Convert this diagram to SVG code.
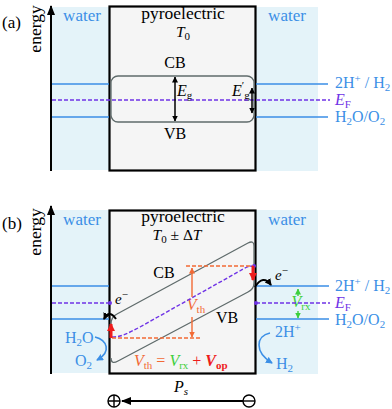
<svg xmlns="http://www.w3.org/2000/svg" width="392" height="409" viewBox="0 0 392 409">
<style>
text{font-family:"Liberation Serif","DejaVu Serif",serif;}
.it{font-style:italic}
.blue{fill:#3b8fe6}
.purp{fill:#6f33e6}
.org{fill:#f26a35}
.grn{fill:#3ccf3c}
.red{fill:#ee1c1c}
.water{fill:#e4f3f9}
.box{fill:#f5f5f5;stroke:#000;stroke-width:2.2}
.bl{stroke:#3b8fe6;stroke-width:1.4;fill:none}
.ef{stroke:#6f33e6;stroke-width:1.4;stroke-dasharray:4 2;fill:none}
.band{stroke:#5f6b6b;stroke-width:1.3;fill:none}
.ax{stroke:#000;stroke-width:2;fill:none}
.blk{stroke:#000;stroke-width:1.5;fill:none}
.odash{stroke:#f26a35;stroke-width:1.3;stroke-dasharray:4 2;fill:none}
</style>
<defs>
<marker id="ah" viewBox="0 0 10 8" refX="9" refY="4" markerWidth="10" markerHeight="8" markerUnits="userSpaceOnUse" orient="auto-start-reverse"><path d="M0,0 L10,4 L0,8 z" fill="#000"/></marker>
<marker id="sh" viewBox="0 0 6 6" refX="5.5" refY="3" markerWidth="6" markerHeight="6" markerUnits="userSpaceOnUse" orient="auto-start-reverse"><path d="M0,0 L6,3 L0,6 z" fill="#000"/></marker>
<marker id="oh" viewBox="0 0 6 6" refX="5.5" refY="3" markerWidth="6" markerHeight="6" markerUnits="userSpaceOnUse" orient="auto-start-reverse"><path d="M0,0 L6,3 L0,6 z" fill="#f26a35"/></marker>
<marker id="gh" viewBox="0 0 6 6" refX="5.5" refY="3" markerWidth="6" markerHeight="6" markerUnits="userSpaceOnUse" orient="auto-start-reverse"><path d="M0,0 L6,3 L0,6 z" fill="#3ccf3c"/></marker>
<marker id="rh" viewBox="0 0 8 8" refX="7" refY="4" markerWidth="8" markerHeight="8" markerUnits="userSpaceOnUse" orient="auto"><path d="M0,0 L8,4 L0,8 z" fill="#ee1c1c"/></marker>
<marker id="bh" viewBox="0 0 7 7" refX="6" refY="3.5" markerWidth="7" markerHeight="7" markerUnits="userSpaceOnUse" orient="auto"><path d="M0,0 L7,3.5 L0,7 z" fill="#3b8fe6"/></marker>
<marker id="kh" viewBox="0 0 7 7" refX="6" refY="3.5" markerWidth="7" markerHeight="7" markerUnits="userSpaceOnUse" orient="auto"><path d="M0,0 L7,3.5 L0,7 z" fill="#000"/></marker>
</defs>

<!-- ===== Panel (a) ===== -->
<g id="panel-a">
<text x="2" y="28" font-size="17">(a)</text>
<text transform="translate(41,29) rotate(-90)" text-anchor="middle" font-size="17.5">energy</text>
<rect class="water" x="52" y="7" width="57" height="163"/>
<rect class="water" x="256" y="7" width="62" height="164"/>
<g id="box-a"><rect class="box" x="109.5" y="6.5" width="146" height="164"/></g>
<text class="blue" x="82" y="21" font-size="17" text-anchor="middle">water</text>
<text class="blue" x="287" y="21" font-size="17" text-anchor="middle">water</text>
<text x="183" y="19" font-size="17.5" text-anchor="middle">pyroelectric</text>
<text x="183" y="37" font-size="15.5" text-anchor="middle"><tspan class="it">T</tspan><tspan font-size="11" dy="3">0</tspan></text>
<text x="175" y="68" font-size="16" text-anchor="middle">CB</text>
<text x="175" y="139" font-size="16" text-anchor="middle">VB</text>
<g id="band-a"><rect class="band" x="111" y="76" width="143" height="46" rx="7"/></g>
<text x="177" y="96" font-size="16"><tspan class="it">E</tspan><tspan font-size="11" dy="3">g</tspan></text>
<text x="232" y="96" font-size="16"><tspan class="it">E</tspan><tspan font-size="11" dy="-7">′</tspan><tspan font-size="11" dy="10">g</tspan></text>
</g>

<!-- ===== Panel (b) ===== -->
<g id="panel-b">
<text x="2" y="229" font-size="17">(b)</text>
<text transform="translate(41,232) rotate(-90)" text-anchor="middle" font-size="17.5">energy</text>
<rect class="water" x="52" y="210" width="57" height="163"/>
<rect class="water" x="256" y="210" width="62" height="164"/>
<g id="box-b"><rect class="box" x="109.5" y="210.5" width="146" height="163"/></g>
<text class="blue" x="82" y="225" font-size="17" text-anchor="middle">water</text>
<text class="blue" x="287" y="225" font-size="17" text-anchor="middle">water</text>
<text x="183" y="222" font-size="17.5" text-anchor="middle">pyroelectric</text>
<text x="177" y="240" font-size="15.5" text-anchor="middle"><tspan class="it">T</tspan><tspan font-size="11" dy="3">0</tspan><tspan dy="-3"> ± Δ</tspan><tspan class="it">T</tspan></text>
<g id="band-b"><path class="band" d="M111,324 Q111,317 117,314 L248,243 Q254,240 254,246 L254,283 Q254,289 248,292 L118,361 Q111,365 111,358"/></g>
<text x="164" y="278" font-size="16" text-anchor="middle">CB</text>
<text x="227" y="323" font-size="16" text-anchor="middle">VB</text>
<text x="134" y="366" font-size="16"><tspan class="it org">V</tspan><tspan class="org" font-size="11" dy="3">th</tspan><tspan class="org" dy="-3"> = </tspan><tspan class="it grn">V</tspan><tspan class="grn" font-size="11" dy="3">rx</tspan><tspan class="red" dy="-3"> + </tspan><tspan class="it red" font-weight="bold">V</tspan><tspan class="red" font-size="11" font-weight="bold" dy="3">op</tspan></text>
<text class="blue" x="65" y="343" font-size="16"><tspan>H</tspan><tspan font-size="11" dy="3">2</tspan><tspan dy="-3">O</tspan></text>
<text class="blue" x="75" y="366" font-size="16"><tspan>O</tspan><tspan font-size="11" dy="3">2</tspan></text>
<text class="blue" x="275" y="337" font-size="16"><tspan>2H</tspan><tspan font-size="11" dy="-6">+</tspan></text>
<text class="blue" x="276" y="369" font-size="16"><tspan>H</tspan><tspan font-size="11" dy="3">2</tspan></text>
<text x="115" y="304" font-size="15"><tspan class="it">e</tspan><tspan font-size="11" dy="-6">−</tspan></text>
<text x="275" y="280" font-size="15"><tspan class="it">e</tspan><tspan font-size="11" dy="-6">−</tspan></text>
<text x="196" y="310" font-size="16" text-anchor="middle"><tspan class="it org">V</tspan><tspan class="org" font-size="11" dy="3">th</tspan></text>
<text x="301" y="307" font-size="16" text-anchor="middle"><tspan class="it grn">V</tspan><tspan class="grn" font-size="11" dy="3">rx</tspan></text>
<text x="181" y="392" font-size="16" text-anchor="middle"><tspan class="it">P</tspan><tspan class="it" font-size="11" dy="3">s</tspan></text>
<g id="plus"><circle cx="114" cy="401" r="6" fill="none" stroke="#000" stroke-width="1.4"/><path d="M108,401 H120 M114,395 V407" stroke="#000" stroke-width="1.4"/></g>
<g id="minus"><circle cx="249" cy="401" r="6" fill="none" stroke="#000" stroke-width="1.4"/><path d="M243,401 H255" stroke="#000" stroke-width="1.4"/></g>
</g>

<!-- level labels -->
<g id="labels">
<text class="blue" x="335" y="88" font-size="16"><tspan>2H</tspan><tspan font-size="11" dy="-6">+</tspan><tspan dy="6"> / H</tspan><tspan font-size="11" dy="3">2</tspan></text>
<text class="purp" x="335" y="105" font-size="16"><tspan class="it">E</tspan><tspan font-size="11" dy="3">F</tspan></text>
<text class="blue" x="335" y="122" font-size="16"><tspan>H</tspan><tspan font-size="11" dy="3">2</tspan><tspan dy="-3">O/O</tspan><tspan font-size="11" dy="3">2</tspan></text>
<text class="blue" x="335" y="291" font-size="16"><tspan>2H</tspan><tspan font-size="11" dy="-6">+</tspan><tspan dy="6"> / H</tspan><tspan font-size="11" dy="3">2</tspan></text>
<text class="purp" x="335" y="308" font-size="16"><tspan class="it">E</tspan><tspan font-size="11" dy="3">F</tspan></text>
<text class="blue" x="335" y="325" font-size="16"><tspan>H</tspan><tspan font-size="11" dy="3">2</tspan><tspan dy="-3">O/O</tspan><tspan font-size="11" dy="3">2</tspan></text>
</g>

<!-- connectors -->
<g id="connectors">
<path class="ax" d="M51,171 V6" marker-end="url(#ah)"/>
<path class="ax" d="M51,374 V206" marker-end="url(#ah)"/>
<path class="bl" d="M52,84 H109 M256,84 H328 M52,117 H109 M256,117 H328"/>
<path class="ef" d="M52,100 H330"/>
<path class="blk" d="M175,77 V121" marker-start="url(#sh)" marker-end="url(#sh)"/>
<path class="blk" d="M252,88 V113" marker-start="url(#sh)" marker-end="url(#sh)"/>
<path class="bl" d="M52,286 H109 M256,286 H329 M52,319 H109 M256,319 H329"/>
<path class="ef" d="M52,303 H110 M256,303 H330"/>
<path class="ef" d="M112,337 C122,337 128,333 140,327 L238,272 C245,268 248,266 253,266"/>
<circle cx="110" cy="303" r="2" fill="#6f33e6"/>
<circle cx="256" cy="303" r="2" fill="#6f33e6"/>
<circle cx="254" cy="266" r="2" fill="#6f33e6"/>
<path class="odash" d="M186,266 H253 M112,338 H200"/>
<path d="M192,268 V297" stroke="#f26a35" stroke-width="1.4" fill="none" marker-start="url(#oh)"/>
<path d="M192,317 V337" stroke="#f26a35" stroke-width="1.4" fill="none" marker-end="url(#oh)"/>
<path d="M298,289 V296" stroke="#3ccf3c" stroke-width="1.4" fill="none" marker-start="url(#gh)"/>
<path d="M298,311 V318" stroke="#3ccf3c" stroke-width="1.4" fill="none" marker-end="url(#gh)"/>
<path d="M111,338 V324" stroke="#ee1c1c" stroke-width="3" fill="none" marker-end="url(#rh)"/>
<path d="M253,266 V280" stroke="#ee1c1c" stroke-width="3" fill="none" marker-end="url(#rh)"/>
<path d="M116,319 Q109,309 104,319" stroke="#000" stroke-width="2" fill="none" marker-end="url(#kh)"/>
<path d="M255,287 Q263,274 271,285" stroke="#000" stroke-width="2" fill="none" marker-end="url(#kh)"/>
<path d="M95,337 C107,340 112,352 97,360" stroke="#3b8fe6" stroke-width="1.6" fill="none" marker-end="url(#bh)"/>
<path d="M270,333 C256,336 254,352 272,363" stroke="#3b8fe6" stroke-width="1.6" fill="none" marker-end="url(#bh)"/>
<path d="M243,401 H122" stroke="#000" stroke-width="2" fill="none" marker-end="url(#ah)"/>
</g>
</svg>
